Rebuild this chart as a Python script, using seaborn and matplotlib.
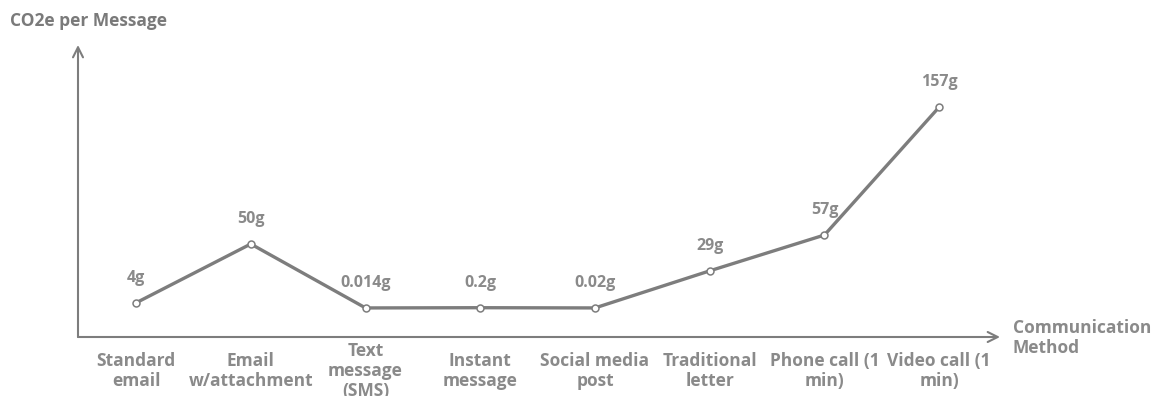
import matplotlib
matplotlib.use("Agg")
import matplotlib.pyplot as plt
import seaborn as sns
import pandas as pd

categories = ["Standard\nemail", "Email\nw/attachment", "Text\nmessage\n(SMS)", "Instant\nmessage",
              "Social media\npost", "Traditional\nletter", "Phone call (1\nmin)", "Video call (1\nmin)"]
values = [4, 50, 0.014, 0.2, 0.02, 29, 57, 157]
value_labels = ["4g", "50g", "0.014g", "0.2g", "0.02g", "29g", "57g", "157g"]

sns.set_theme(style="white")
plt.rcParams['font.family'] = ['Open Sans', 'DejaVu Sans']

LINE = "#7d7d7d"
TEXT = "#8a8a8a"

df = pd.DataFrame({"x": range(len(values)), "y": values})

fig = plt.figure(figsize=(11.66, 3.96), dpi=100)
ax = fig.add_axes([78/1166, 59/396, (1000-78)/1166, (337-45)/396])

sns.lineplot(data=df, x="x", y="y", ax=ax, color=LINE, linewidth=2.4,
             marker="o", markersize=5, markerfacecolor="white",
             markeredgecolor=LINE, markeredgewidth=1.1)

ax.set_xlim(-0.506, 7.53)
ax.set_ylim(-22.7, 205.5)
for s in ax.spines.values():
    s.set_visible(False)

ax.annotate("", xy=(1, 0), xytext=(0, 0), xycoords="axes fraction",
            arrowprops=dict(arrowstyle="->", color=LINE, lw=1.5, mutation_scale=18,
                            shrinkA=0, shrinkB=0))
ax.annotate("", xy=(0, 1), xytext=(0, 0), xycoords="axes fraction",
            arrowprops=dict(arrowstyle="->", color=LINE, lw=1.5, mutation_scale=18,
                            shrinkA=0, shrinkB=0))

ax.set_yticks([])
ax.set_xticks(range(len(categories)))
ax.set_xticklabels(categories, fontsize=12.5, fontweight="bold", color=TEXT,
                   linespacing=1.12)
ax.tick_params(axis="x", length=0, pad=24.5)
for lab in ax.get_xticklabels():
    lab.set_verticalalignment("center")
ax.set_xlabel("")
ax.set_ylabel("")

for i, (v, t) in enumerate(zip(values, value_labels)):
    ax.annotate(t, (i, v), xytext=(0, 18), textcoords="offset points",
                ha="center", va="center", fontsize=11.5, fontweight="bold", color=TEXT)

fig.text(1013/1166, 1 - 338/396, "Communication\nMethod", ha="left", va="center",
         fontsize=12.5, fontweight="bold", color=TEXT, linespacing=1.12)
fig.text(10/1166, 1 - 21/396, "CO2e per Message", ha="left", va="center",
         fontsize=12.5, fontweight="bold", color="#7a7a7a")

fig.savefig("out.png", dpi=100, facecolor="white")
